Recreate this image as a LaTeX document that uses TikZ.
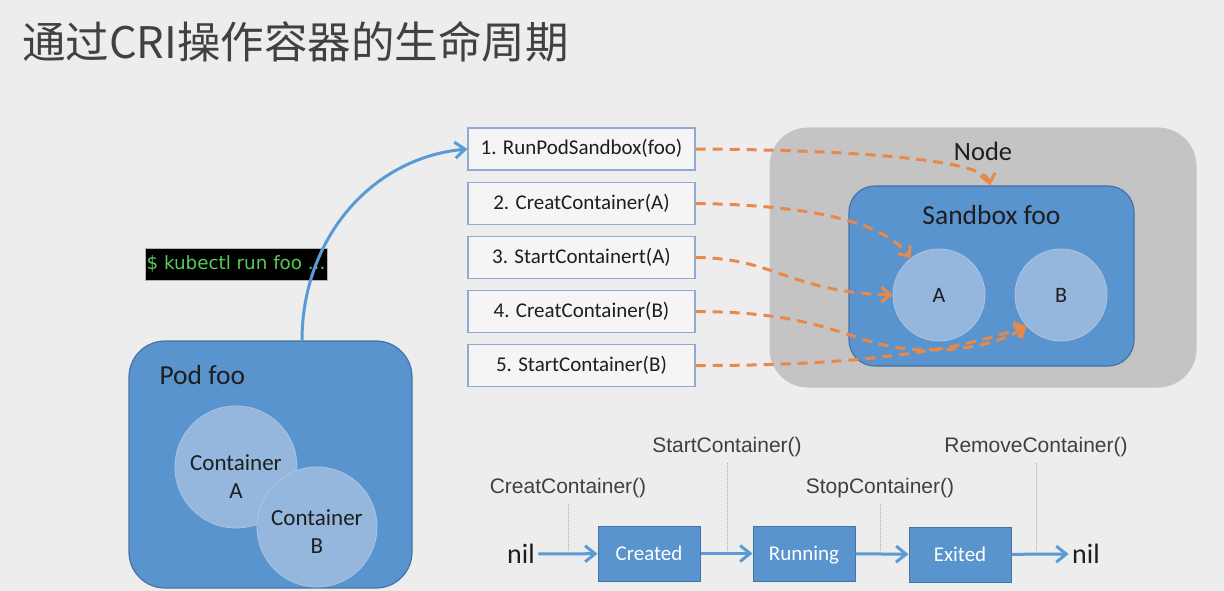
\documentclass[tikz,border=0pt]{standalone}
\usepackage{fontspec}
\setmainfont{Carlito}
\newfontfamily\cjkfont{Noto Sans CJK SC}
\newfontfamily\arialfont{Liberation Sans}
\newfontfamily\termfont{DejaVu Sans}
\usetikzlibrary{arrows.meta}

\definecolor{bgcolor}{HTML}{EDEDED}
\definecolor{boxblue}{HTML}{5A94CF}
\definecolor{boxedge}{HTML}{4673A6}
\definecolor{ctrblue}{HTML}{95B6DD}
\definecolor{nodegray}{HTML}{C4C4C4}
\definecolor{stepedge}{HTML}{8FAAD4}
\definecolor{callorange}{HTML}{E8894A}
\definecolor{cmdblue}{HTML}{5B9BD5}
\definecolor{termgreen}{HTML}{58CC58}
\definecolor{inkdark}{HTML}{1E1E1E}
\definecolor{titlegray}{HTML}{3F4143}

% sizes in px (1px = 1pt here)
\newcommand{\pxfont}[1]{\fontsize{#1}{#1}\selectfont}
\newcommand{\stepwidth}{227pt}
\newcommand{\stepheight}{42pt}
\newcommand{\statewidth}{102pt}
\newcommand{\stateheight}{55pt}

\tikzset{
  panel/.style={draw=boxedge, fill=boxblue, line width=1.2pt},
  ctr/.style={circle, fill=ctrblue, draw=ctrblue!80!white, line width=0.8pt,
    inner sep=0pt},
  ctrtext/.style={text=inkdark, align=center, inner sep=0pt,
    font=\fontsize{23}{28}\selectfont},
  stepbox/.style={draw=stepedge, fill=white!96!black, line width=1.2pt,
    minimum width=\stepwidth, minimum height=\stepheight, text=inkdark,
    text height=15pt, text depth=4pt, font=\pxfont{21}},
  statebox/.style={draw=boxedge, fill=boxblue, line width=1pt,
    minimum width=\statewidth, minimum height=\stateheight, text=white,
    text height=14pt, text depth=1pt, font=\pxfont{21}},
  call/.style={callorange, line width=3pt, dash pattern=on 10pt off 7pt,
    -{Straight Barb[length=9pt,width=15pt]}},
  flow/.style={cmdblue, line width=3pt, -{Straight Barb[length=10pt,width=16pt]}},
  apilabel/.style={font=\arialfont\pxfont{21}, text=inkdark!85!white, inner sep=2pt},
  guide/.style={draw=gray!65, line width=1pt, densely dotted},
}

\begin{document}
\begin{tikzpicture}[x=1pt, y=-1pt]

\useasboundingbox (0,0) rectangle (1224,591);
\fill[bgcolor] (0,0) rectangle (1224,591);

% title
\node[anchor=west, inner sep=0pt, text=titlegray, font=\cjkfont\pxfont{43.5}]
  (title) at (22,42) {通过CRI操作容器的生命周期};

% pod on the left
\node[panel, rounded corners=36pt, minimum width=283pt, minimum height=247pt]
  (pod) at (270.5,464.5) {};
\node[text=inkdark, font=\pxfont{27.5}, anchor=west] (podlabel) at (156,375) {Pod foo};
\node[ctr, minimum size=122pt] (conta) at (236,467) {};
\node[ctrtext] (conttexta) at (236,477) {Container\\A};
\node[ctr, minimum size=120pt] (contb) at (317,527) {};
\node[ctrtext] (conttextb) at (317,532) {Container\\B};

% kubectl command
\node[fill=black, draw=gray!60, line width=0.6pt, minimum width=182pt,
  minimum height=32pt, inner sep=0pt, text=termgreen, font=\termfont\pxfont{18.3}]
  (kubectl) at (236,264) {\$ kubectl run foo ...};

% CRI calls
\foreach \i/\y/\call in {1/149/{1. RunPodSandbox(foo)},
                         2/203.5/{2. CreatContainer(A)},
                         3/257.5/{3. StartContainert(A)},
                         4/311.5/{4. CreatContainer(B)},
                         5/365.5/{5. StartContainer(B)}}
  \node[stepbox] (s\i) at (581.5,\y) {\call};

\draw[flow] (pod.north -| 302,0) .. controls (302,240) and (370,158) .. (s1.west);

% node with sandbox
\node[draw=gray!45, fill=nodegray, line width=1pt, rounded corners=38pt,
  minimum width=426pt, minimum height=259pt] (node) at (983,257.5) {};
\node[text=inkdark, font=\pxfont{26.5}] (nodelabel) at (983,151) {Node};
\node[panel, rounded corners=26pt, minimum width=285pt, minimum height=180pt]
  (sandbox) at (991.5,276) {};
\node[text=inkdark, font=\pxfont{27.5}] (sandboxlabel) at (991.5,215) {Sandbox foo};
\node[ctr, minimum size=92pt, text=inkdark, font=\pxfont{22}] (ca) at (939,295) {A};
\node[ctr, minimum size=92pt, text=inkdark, font=\pxfont{22}] (cb) at (1061,295) {B};

\draw[call] (s1.east) .. controls (860,150) and (985,160) .. (sandbox.north -| 990,0);
\draw[call] (s2.east) .. controls (810,205) and (885,222) .. (ca.128);
\draw[call] (s3.east) .. controls (775,258) and (790,292) .. (ca.west);
\draw[call] (s4.east) .. controls (840,312) and (850,350) .. (930,350)
  .. controls (975,350) and (1005,340) .. (cb.222);
\draw[call] (s5.east) .. controls (850,366) and (955,352) .. (cb.222);

% container lifecycle
\node[text=inkdark, font=\pxfont{28}] (nilstart) at (521,554) {nil};
\node[statebox] (created) at (649,553.5) {Created};
\node[statebox] (running) at (804,553.5) {Running};
\node[statebox] (exited) at (960,554.5) {Exited};
\node[text=inkdark, font=\pxfont{28}] (nilend) at (1086,554) {nil};

\draw[flow] (nilstart) -- (created);
\draw[flow] (created) -- (running);
\draw[flow] (running) -- (exited);
\draw[flow] (exited) -- (nilend);

\node[apilabel] (lcreate) at (568,488) {CreatContainer()};
\node[apilabel] (lstart) at (727,447) {StartContainer()};
\node[apilabel] (lstop) at (880,488) {StopContainer()};
\node[apilabel] (lremove) at (1036,447) {RemoveContainer()};

\foreach \lbl in {lcreate, lstart, lstop, lremove}
  \draw[guide] ([yshift=-4pt]\lbl.south) -- (\lbl.south |- 0,551);

\end{tikzpicture}
\end{document}
